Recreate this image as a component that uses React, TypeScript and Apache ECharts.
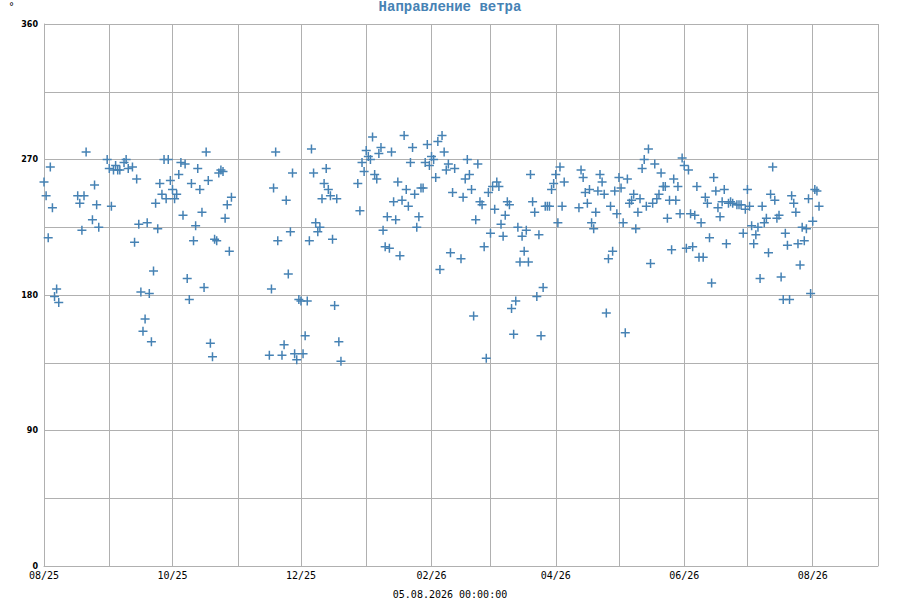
import React, { useEffect, useRef } from "react";
import * as echarts from "echarts";

const TITLE = "Направление ветра";
const UNIT = "°";
const TIMESTAMP_LABEL = "05.08.2026 00:00:00";

const Y_MIN = 0;
const Y_MAX = 360;
const Y_STEP = 45;
const Y_LABEL_STEP = 90;

const X_START = [2025, 7, 1];
const X_END = [2026, 8, 1];

// [day of month, direction in degrees]
const aug25 = [[1,255],[2,246],[3,218],[4,265],[5,238],[6,179],[7,184],[8,175],[17,246],[18,241],[19,223],[20,246],[21,275],[24,230],[25,253],[26,240],[27,225],[31,270]];
const sep25 = [[1,264],[2,239],[3,263],[4,266],[5,263],[6,263],[8,268],[9,270],[10,264],[12,265],[13,215],[14,257],[15,227],[16,182],[17,156],[18,164],[19,228],[20,181],[21,149],[22,196],[23,241],[24,224],[25,254],[26,247],[27,270],[28,244],[29,270],[30,256]];
const oct25 = [[1,250],[2,244],[3,247],[4,260],[5,268],[6,233],[7,267],[8,191],[9,177],[10,254],[11,216],[12,226],[13,264],[14,250],[15,235],[16,185],[17,275],[18,256],[19,148],[20,139],[21,217],[22,216],[23,261],[24,263],[25,262],[26,231],[27,240],[28,209],[29,245]];
const nov25 = [[16,140],[17,184],[18,251],[19,275],[20,216],[22,140],[23,147],[24,243],[25,194],[26,222],[27,261],[28,141],[29,137],[30,177]];
const dec25 = [[1,176],[2,141],[3,153],[4,176],[5,216],[6,277],[7,261],[8,228],[9,222],[10,225],[11,244],[12,254],[13,264],[14,250],[15,246],[16,217],[17,173],[18,244],[19,149],[20,136],[28,254],[29,236],[30,268],[31,262]];
const jan26 = [[1,276],[2,272],[3,270],[4,285],[5,260],[6,257],[7,274],[8,278],[9,223],[10,212],[11,232],[12,211],[13,275],[14,242],[15,230],[16,255],[17,206],[18,243],[19,286],[20,250],[21,239],[22,268],[23,278],[24,247],[25,225],[26,232],[27,251],[28,251],[29,268],[30,280],[31,266]];
const feb26 = [[1,272],[2,270],[3,258],[4,282],[5,197],[6,286],[7,275],[8,263],[9,267],[10,208],[11,248],[12,264],[15,204],[16,245],[17,257],[18,270],[19,260],[20,250],[21,166],[22,230],[23,267],[24,242],[25,240],[26,212],[27,138],[28,248]];
const mar26 = [[1,221],[2,252],[3,237],[4,255],[5,252],[6,227],[7,219],[8,233],[9,242],[10,240],[11,171],[12,154],[13,176],[14,225],[15,202],[16,219],[17,209],[18,223],[19,202],[20,260],[21,242],[22,235],[23,179],[24,220],[25,153],[26,185],[27,239],[28,239],[29,239],[30,250],[31,254]];
const apr26 = [[1,260],[2,228],[3,265],[4,239],[5,255],[12,238],[13,263],[14,258],[15,248],[16,241],[17,250],[18,228],[19,224],[20,235],[21,249],[22,260],[23,255],[24,247],[25,168],[26,204],[27,239],[28,209],[29,249],[30,234]];
const may26 = [[1,258],[2,251],[3,228],[4,155],[5,257],[6,241],[7,243],[8,247],[9,224],[10,235],[11,244],[12,264],[13,270],[14,239],[15,277],[16,201],[17,241],[18,267],[19,244],[20,247],[21,261],[22,252],[23,252],[24,231],[25,243],[26,210],[27,257],[28,243],[29,252],[30,234],[31,271]];
const jun26 = [[1,266],[2,211],[3,263],[4,234],[5,212],[6,233],[7,252],[8,205],[9,228],[10,205],[11,245],[12,241],[13,218],[14,188],[15,258],[16,249],[17,238],[18,232],[19,242],[20,250],[21,214],[22,241],[23,242],[24,241],[26,240],[27,240],[28,240],[29,221],[30,237]];
const jul26 = [[1,250],[2,239],[3,226],[4,214],[5,220],[6,225],[7,191],[8,239],[9,228],[10,231],[11,208],[12,247],[13,265],[14,243],[15,231],[16,233],[17,192],[18,177],[19,221],[20,213],[21,177],[22,246],[23,241],[24,235],[25,214],[26,200],[27,225],[28,216],[29,224],[30,244],[31,181]];
const aug26 = [[1,229],[2,250],[3,249],[4,239]];

const MONTHS: [number, number, number[][]][] = [
  [2025, 7, aug25],
  [2025, 8, sep25],
  [2025, 9, oct25],
  [2025, 10, nov25],
  [2025, 11, dec25],
  [2026, 0, jan26],
  [2026, 1, feb26],
  [2026, 2, mar26],
  [2026, 3, apr26],
  [2026, 4, may26],
  [2026, 5, jun26],
  [2026, 6, jul26],
  [2026, 7, aug26],
];

const COLOR = "#4682b4";
const GRID_COLOR = "#b0b0b0";

function pad2(n: number) {
  return n < 10 ? "0" + n : "" + n;
}

export default function App() {
  const ref = useRef<HTMLDivElement>(null);

  useEffect(() => {
    if (!ref.current) return;
    const chart = echarts.init(ref.current, undefined, { renderer: "svg" });

    const data: number[][] = [];
    MONTHS.forEach(([y, m, arr]) => {
      arr.forEach(([d, v]) => {
        data.push([new Date(y, m, d).getTime(), v]);
      });
    });

    const xMin = new Date(X_START[0], X_START[1], X_START[2]).getTime();
    const xMax = new Date(X_END[0], X_END[1], X_END[2]).getTime();
    const DAY = 86400000;

    chart.setOption({
      animation: false,
      backgroundColor: "#ffffff",
      title: {
        text: TITLE,
        left: "center",
        top: 0,
        padding: 0,
        textStyle: {
          fontFamily: "Liberation Mono",
          fontWeight: "bold",
          fontSize: 14,
          color: COLOR,
        },
      },
      grid: { left: 44, right: 22, top: 24, bottom: 34, containLabel: false },
      xAxis: {
        type: "time",
        min: xMin,
        max: xMax,
        splitNumber: 13,
        minInterval: 28 * DAY,
        maxInterval: 31 * DAY,
        axisLine: { show: true, lineStyle: { color: GRID_COLOR, width: 1 } },
        axisTick: { show: false },
        splitLine: { show: true, lineStyle: { color: GRID_COLOR, width: 1 } },
        axisLabel: {
          show: true,
          margin: 4,
          color: "#000",
          fontFamily: "DejaVu Sans Mono",
          fontSize: 10,
          hideOverlap: false,
          showMinLabel: true,
          showMaxLabel: true,
          formatter: (val: number) => {
            const dt = new Date(val);
            const m = dt.getMonth();
            if (dt.getDate() !== 1 || m % 2 === 0) return "";
            return pad2(m + 1) + "/" + pad2(dt.getFullYear() % 100);
          },
        },
      },
      yAxis: {
        type: "value",
        min: Y_MIN,
        max: Y_MAX,
        interval: Y_STEP,
        axisLine: { show: true, lineStyle: { color: GRID_COLOR, width: 1 } },
        axisTick: { show: false },
        splitLine: { show: true, lineStyle: { color: GRID_COLOR, width: 1 } },
        axisLabel: {
          margin: 6,
          color: "#000",
          fontFamily: "DejaVu Sans",
          fontWeight: "bold",
          fontSize: 8,
          formatter: (v: number) => (v % Y_LABEL_STEP === 0 ? String(v) : ""),
        },
      },
      graphic: [
        {
          type: "text",
          left: 9,
          top: 1,
          style: { text: UNIT, fill: "#000", fontSize: 10, fontFamily: "DejaVu Sans" },
        },
        {
          type: "text",
          left: "center",
          top: 589,
          style: {
            text: TIMESTAMP_LABEL,
            fill: "#000",
            fontSize: 10,
            fontFamily: "DejaVu Sans Mono",
          },
        },
      ],
      series: [
        {
          type: "scatter",
          data,
          symbol: "path://M3.75,0H5.25V9H3.75Z M0,3.75H9V5.25H0Z",
          symbolSize: 9,
          itemStyle: { color: COLOR, opacity: 1 },
          silent: true,
        },
      ],
    });

    return () => chart.dispose();
  }, []);

  return (
    <div
      ref={ref}
      style={{ position: "fixed", left: 0, top: 0, width: 900, height: 600 }}
    />
  );
}
